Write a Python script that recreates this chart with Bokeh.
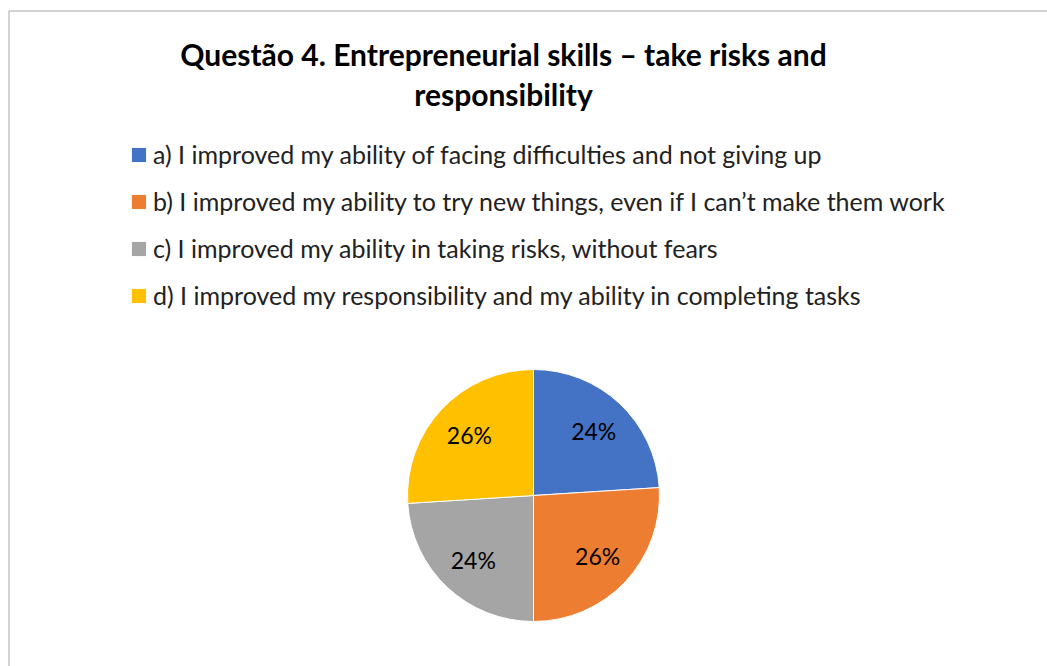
import numpy as np
from bokeh.plotting import figure
from bokeh.models import Range1d, ColumnDataSource, Legend, LegendItem
from bokeh.embed import file_html
from bokeh.resources import INLINE
from bokeh.core.properties import value

# ---- data ----
categories = [
    "a) I improved my ability of facing difficulties and not giving up",
    "b) I improved my ability to try new things, even if I can\u2019t make them work",
    "c) I improved my ability in taking risks, without fears",
    "d) I improved my responsibility and my ability in completing tasks",
]
values = [24, 26, 24, 26]
pct_labels = ["24%", "26%", "24%", "26%"]
colors = ["#4472C4", "#ED7D31", "#A5A5A5", "#FFC000"]
title_lines = ["Questão 4. Entrepreneurial skills \u2013 take risks and", "responsibility"]

# ---- layout ----
W, H = 1047, 666


def sx(x):
    return x


def sy(y):
    return H - y


p = figure(width=W, height=H, x_range=Range1d(0, W), y_range=Range1d(0, H),
           output_backend="svg", toolbar_location=None, min_border=0)
p.axis.visible = False
p.grid.visible = False
p.outline_line_color = None
p.background_fill_color = "white"
p.border_fill_color = "white"

# chart frame border (only top and left visible in window)
p.segment(x0=[8.5, 8.5], y0=[sy(10.5), sy(10.5)], x1=[8.5, W + 5], y1=[-5, sy(10.5)],
          line_color="#a6a6a6", line_width=1)

# title
for i, t in enumerate(title_lines):
    p.text(x=[sx(503)], y=[sy(53 + 40 * i)], text=[t], text_align="center",
           text_baseline="middle", text_font=value("Lato"), text_font_style="bold",
           text_font_size="30px", text_color="black")

# pie
total = float(sum(values))
frac = np.cumsum([0] + values) / total
starts = np.pi / 2 - 2 * np.pi * frac[:-1]
ends = np.pi / 2 - 2 * np.pi * frac[1:]
mids = (starts + ends) / 2
cx, cy = sx(533), sy(495)
R = 126
LR = 88
src = ColumnDataSource(dict(start=starts, end=ends, color=colors, cat=categories,
                            lx=cx + LR * np.cos(mids), ly=cy + LR * np.sin(mids),
                            lab=pct_labels))
r = p.wedge(x=cx, y=cy, radius=R, start_angle="start", end_angle="end",
            direction="clock", fill_color="color", line_color="white",
            line_width=1, source=src)
p.text(x="lx", y="ly", text="lab", text_align="center", text_baseline="middle",
       text_font=value("Lato"), text_font_size="23px", text_color="black", source=src)

# legend
items = [LegendItem(label=categories[i], renderers=[r], index=i) for i in range(len(categories))]
legend = Legend(items=items, location=(sx(129), H - 310), orientation="vertical")
legend.padding = 0
legend.margin = 0
legend.border_line_alpha = 0
legend.background_fill_alpha = 0
legend.glyph_width = 19
legend.glyph_height = 19
legend.label_height = 30
legend.spacing = 17
legend.label_standoff = 5
legend.label_text_font = "Lato"
legend.label_text_font_size = "25px"
legend.label_text_color = "#222222"
p.add_layout(legend)

open("out.html", "w").write(file_html(p, INLINE))
